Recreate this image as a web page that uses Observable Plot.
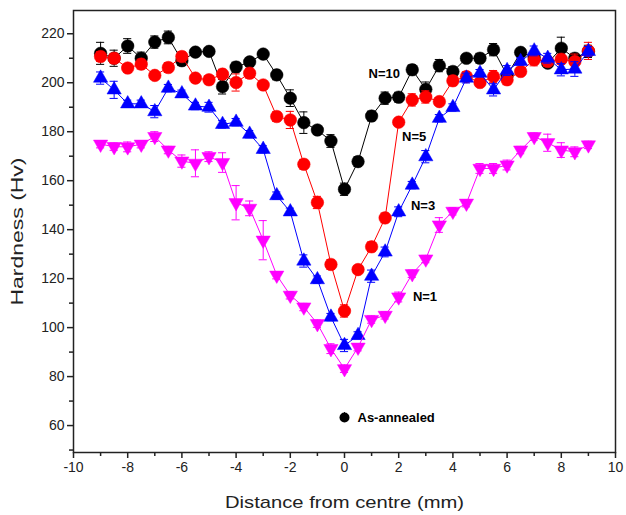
<!DOCTYPE html>
<html><head><meta charset="utf-8">
<script src="https://cdn.jsdelivr.net/npm/d3@7"></script>
<script src="https://cdn.jsdelivr.net/npm/@observablehq/plot@0.6"></script>
<style>
body{margin:0;background:#fff}
svg{font-family:"Liberation Sans",Arial,sans-serif;}
</style>
</head><body><div id="chart"></div>
<script>
// Distance from centre (mm)
const distance = [-9,-8.5,-8,-7.5,-7,-6.5,-6,-5.5,-5,-4.5,-4,-3.5,-3,-2.5,-2,-1.5,-1,-0.5,0,0.5,1,1.5,2,2.5,3,3.5,4,4.5,5,5.5,6,6.5,7,7.5,8,8.5,9];

// Hardness (Hv) per series, with error half-widths
const hvN10  = [212,210,215,210,216.6,218.5,209,212.5,212.8,198.4,206.4,208.5,211.7,203.2,193.7,183.7,180.7,176.2,156.5,167.8,186.4,193.7,194.1,205.3,197.3,207,204.6,210,210,213.5,203,212.4,210.3,208,214.1,210,212.8];
const errN10 = [4.5,3.3,3,2.5,2.5,2.6,2,1.5,1.5,3,2,1.5,1.5,2,3.4,4.4,1.5,2.6,2.5,2,2,2.5,2,2,3,2.5,2,1.5,2,2.5,2,1.5,1.5,1.5,4.5,2,2.5];

const hvN5  = [210.7,210,206,207.6,203,206.2,210.7,201.9,201.2,203.5,200.1,203.9,199.1,186.2,184.8,166.7,151.1,125.8,106.8,123.7,133,144.8,183.9,193,194.2,192.3,200.8,202.5,200.1,202.5,201.2,204.6,209.4,208.7,209.6,208.7,213];
const errN5 = [2,2,1.5,2,1.5,2,2,1.5,1.5,2,3.5,2,1.5,2,3.5,2,2.5,2,2.5,1.5,2,2,1.5,2.5,2.5,1.5,2,2,1.5,2.5,2,1.5,2.5,2,2,3,3.5];

const hvN3  = [201.9,197.1,191.4,191.4,188.2,197.8,195.5,190.5,190,183,183.9,179,172.8,153.9,147.3,127.2,119.6,104.3,92.7,96.8,121,130.9,147.3,158.2,169.8,185.5,189.9,201.9,203.9,197.1,205,208.7,213,210,205.3,205.6,212.8];
const errN3 = [2.5,3.5,1.5,1.5,2.5,1.5,1.5,1.5,2,1.5,1.5,1.5,1.5,1.5,1.5,2.5,1.5,1.5,2.5,1.5,2.5,2,2,1.5,2.5,1.5,1.5,2,1.5,2.5,2,1.5,2,2,2.5,3,2];

const hvN1  = [174.9,173.9,173.8,174.9,178,172.5,168,167.1,169.8,167.4,151,148.7,135.7,121.4,113.2,108.4,101.6,91.4,83.2,92,103.3,105,112.5,122,128,141.9,147.5,150.8,165,165,166.4,172.5,178,175.5,172.5,171.8,174.6];
const errN1 = [1.5,1.5,2,1.5,2,1.5,2.5,5.5,2,4,7,3,8,1.5,1.5,1.5,1.5,2,1.5,1.5,1.5,1.5,2,1.5,1.5,3,1.5,1.5,2,2,2,1.5,1.5,3.5,3,2,1.5];

const seriesNames = ["N=10","N=5","N=3","N=1"];
const seriesColors = ["#000000","#ff0000","#0000ff","#ff00ff"];

// Series label annotations (data coordinates)
const labelX = [1.47, 2.57, 2.9, 2.97];
const labelY = [203.6, 177.9, 149.6, 112.5];

const legendLabel = "As-annealed";
const legendPos = {x: 0, y: 63.3};

const xTicks = [-10,-8,-6,-4,-2,0,2,4,6,8,10];
const xMinor = [-9,-7,-5,-3,-1,1,3,5,7,9];
const yTicks = [60,80,100,120,140,160,180,200,220];
const yMinor = [50,70,90,110,130,150,170,190,210];

const xLabel = "Distance from centre (mm)";
const yLabel = "Hardness (Hv)";

const series = [
  {name: seriesNames[0], hv: hvN10, err: errN10, color: seriesColors[0], symbol: "circle", rotate: 0, r: 6.3},
  {name: seriesNames[1], hv: hvN5,  err: errN5,  color: seriesColors[1], symbol: "circle", rotate: 0, r: 6.3},
  {name: seriesNames[2], hv: hvN3,  err: errN3,  color: seriesColors[2], symbol: "triangle", rotate: 0, r: 5.3},
  {name: seriesNames[3], hv: hvN1,  err: errN1,  color: seriesColors[3], symbol: "triangle", rotate: 180, r: 5.3}
];

const capHalf = 0.15;
const marks = [];
for (const s of series) {
  const rows = distance.map((x, i) => ({x, y: s.hv[i], lo: s.hv[i] - s.err[i], hi: s.hv[i] + s.err[i]}));
  marks.push(Plot.line(rows, {x: "x", y: "y", stroke: s.color, strokeWidth: 1}));
  marks.push(Plot.ruleX(rows, {x: "x", y1: "lo", y2: "hi", stroke: s.color, strokeWidth: 1}));
  marks.push(Plot.ruleY(rows, {y: "lo", x1: d => d.x - capHalf, x2: d => d.x + capHalf, stroke: s.color, strokeWidth: 1}));
  marks.push(Plot.ruleY(rows, {y: "hi", x1: d => d.x - capHalf, x2: d => d.x + capHalf, stroke: s.color, strokeWidth: 1}));
  marks.push(Plot.dot(rows, {x: "x", y: "y", symbol: s.symbol, rotate: s.rotate, r: s.r, fill: s.color, stroke: s.color, strokeWidth: 0.5}));
}

const labels = seriesNames.map((n, i) => ({text: n, x: labelX[i], y: labelY[i]}));

const chart = Plot.plot({
  width: 626,
  height: 515,
  marginLeft: 73,
  marginRight: 11,
  marginTop: 10,
  marginBottom: 63,
  style: {fontFamily: "'Liberation Sans', Arial, sans-serif", background: "#fff", overflow: "visible"},
  x: {domain: [-10, 10]},
  y: {domain: [49, 229.5]},
  marks: [
    ...marks,
    Plot.text(labels, {x: "x", y: "y", text: "text", fontSize: 13, fontWeight: "bold", fill: "#000"}),
    Plot.ruleX([legendPos], {x: "x", y1: d => d.y - 2, y2: d => d.y + 2, stroke: "#000"}),
    Plot.dot([legendPos], {x: "x", y: "y", r: 5, fill: "#000"}),
    Plot.text([legendPos], {x: "x", y: "y", text: () => legendLabel, dx: 13, textAnchor: "start", fontSize: 13, fontWeight: "bold", fill: "#000"}),
    Plot.frame({stroke: "#222", strokeWidth: 1.5}),
    Plot.axisX({ticks: xTicks, tickSize: 6, tickPadding: 4, tickFormat: d => String(d), fontSize: 14, label: null, strokeWidth: 1.5, color: "#222"}),
    Plot.axisX({ticks: xMinor, tickSize: 4, tickFormat: () => "", label: null, strokeWidth: 1.5, color: "#222"}),
    Plot.axisY({ticks: yTicks, tickSize: 6, tickPadding: 3, tickFormat: d => String(d), fontSize: 14, label: null, strokeWidth: 1.5, color: "#222"}),
    Plot.axisY({ticks: yMinor, tickSize: 4, tickFormat: () => "", label: null, strokeWidth: 1.5, color: "#222"}),
    Plot.text([xLabel], {frameAnchor: "bottom", dy: 50, lineAnchor: "middle", textAnchor: "middle", text: d => d, fontSize: 17, fill: "#222", className: "xlab"}),
    Plot.text([yLabel], {frameAnchor: "left", dx: -56, rotate: -90, textAnchor: "middle", lineAnchor: "middle", text: d => d, fontSize: 17, fill: "#222", className: "ylab"})
  ]
});
// stretch axis titles along their length to match the reference's wide lettering
chart.querySelectorAll(".xlab text").forEach(t => { t.setAttribute("textLength", 239); t.setAttribute("lengthAdjust", "spacingAndGlyphs"); });
chart.querySelectorAll(".ylab text").forEach(t => { t.setAttribute("textLength", 148); t.setAttribute("lengthAdjust", "spacingAndGlyphs"); });
document.getElementById("chart").appendChild(chart);
</script>
</body></html>
